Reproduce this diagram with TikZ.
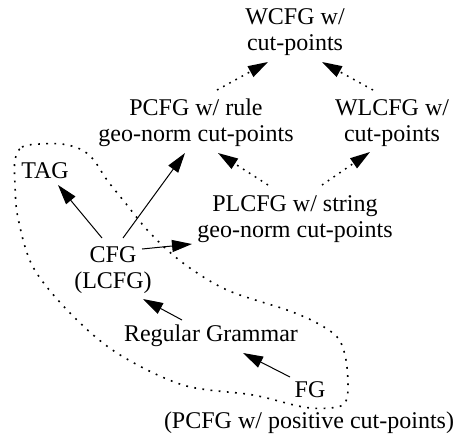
\documentclass[tikz,border=0pt]{standalone}
\usepackage{fontspec}
\setmainfont{Liberation Serif}
\usetikzlibrary{arrows.meta,calc}
% two centred lines, baseline at the first line
\newcommand{\twolines}[2]{\begin{tabular}[t]{@{}c@{}}#1\\#2\end{tabular}}
\begin{document}
\begin{tikzpicture}[x=1pt,y=-1pt,
  txt/.style={font=\fontsize{24}{26}\selectfont, inner sep=0pt, anchor=base},
  link/.style={-{Triangle[length=20pt,width=12pt]}, line width=1pt},
  dotlink/.style={link, line width=1.5pt, dash pattern=on 1.7pt off 5.3pt},
  region/.style={line width=1.6pt, dash pattern=on 1.8pt off 6.4pt}]
\useasboundingbox (0,0) rectangle (454,441);

% grammar classes
\node[txt] (WCFG)  at (295,25)  {\twolines{WCFG w/}{cut-points}};
\node[txt] (PCFG)  at (196,115) {\twolines{PCFG w/ rule}{geo-norm cut-points}};
\node[txt] (WLCFG) at (392,115) {\twolines{WLCFG w/}{cut-points}};
\node[txt] (PLCFG) at (295,211) {\twolines{PLCFG w/ string}{geo-norm cut-points}};
\node[txt] (TAG)   at (45,178)  {TAG};
\node[txt] (CFG)   at (113,262) {\twolines{CFG}{(LCFG)}};
\node[txt] (RG)    at (211,341) {Regular Grammar};
\node[txt] (FG)    at (310,397) {FG};
\node[txt] (FGnote) at (309,428) {(PCFG w/ positive cut-points)};

% dotted inclusions
\draw[dotlink] ($(PCFG.base)+(21,-25)$)  -- ($(WCFG.base)+(-27,37)$);
\draw[dotlink] ($(WLCFG.base)+(-19,-25)$) -- ($(WCFG.base)+(27,37)$);
\draw[dotlink] ($(PLCFG.base)+(-27,-26)$) -- ($(PCFG.base)+(22,38)$);
\draw[dotlink] ($(PLCFG.base)+(27,-26)$)  -- ($(WLCFG.base)+(-22,37)$);

% solid inclusions
\draw[link] ($(CFG.base)+(-11,-24)$) -- ($(TAG.base)+(13,7)$);
\draw[link] ($(CFG.base)+(10,-24)$)  -- ($(PCFG.base)+(-11,38)$);
\draw[link] ($(CFG.base)+(29,-13)$)  -- ($(PLCFG.base)+(-103,33)$);
\draw[link] ($(RG.base)+(-29,-21)$)  -- ($(CFG.base)+(30,37)$);
\draw[link] ($(FG.base)+(-20,-20)$)  -- ($(RG.base)+(32,12)$);

% dotted region around the classic grammars
\draw[region] plot[smooth cycle, tension=0.55] coordinates {
  (15,160) (22,147) (40,144) (62,144) (80,149) (93,159) (107,180)
  (123,200) (150,233) (183,263) (227,290) (287,310) (317,323)
  (338,338) (346,360) (348,390) (344,404) (330,408) (303,407)
  (253,395) (183,385) (117,353) (70,313) (33,267) (18,218) (15,185)};
\end{tikzpicture}
\end{document}
